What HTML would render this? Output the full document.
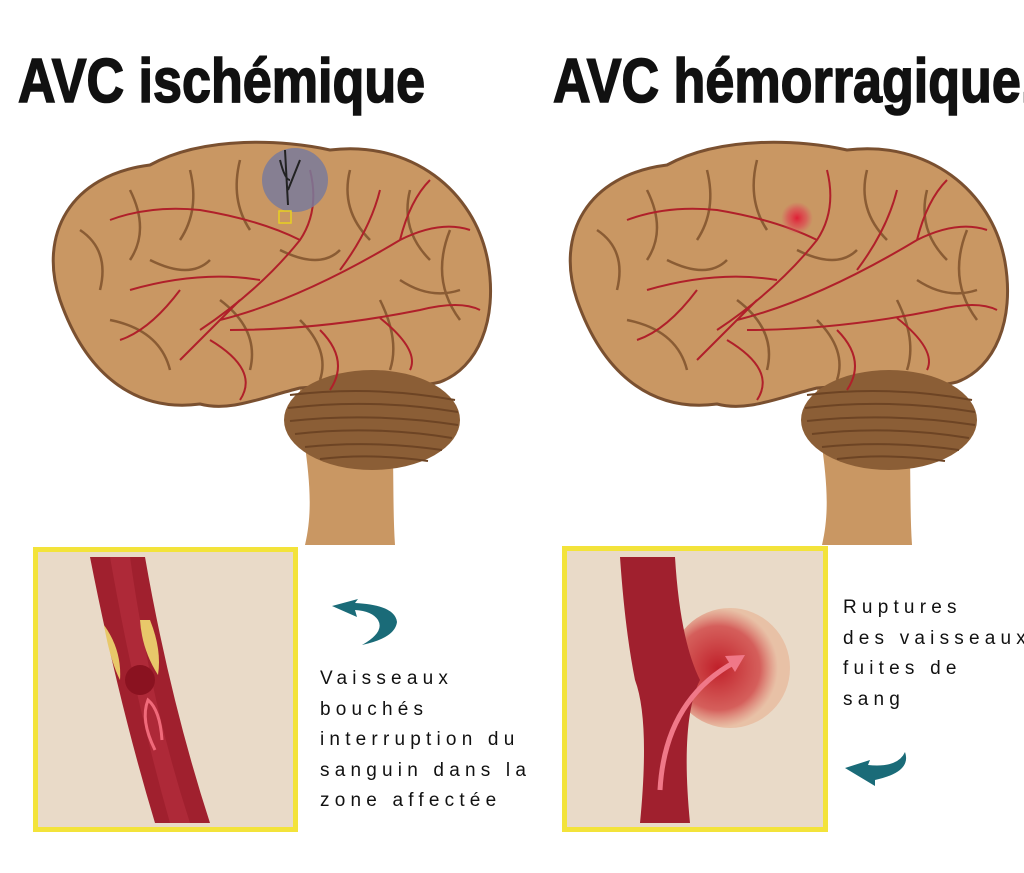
<!DOCTYPE html>
<html><head><meta charset="utf-8"><style>
html,body{margin:0;padding:0;background:#fff;}
body{width:1024px;height:873px;overflow:hidden;position:relative;font-family:"Liberation Sans",sans-serif;}
.t{position:absolute;font-family:"Liberation Sans",sans-serif;font-size:19px;letter-spacing:5.2px;color:#111;line-height:30.5px;white-space:pre;}
.h{position:absolute;top:46px;font-weight:bold;font-size:62px;transform:scaleX(0.84);transform-origin:0 0;white-space:nowrap;color:#111;-webkit-text-stroke:1.6px #111;}
</style></head><body>
<svg width="1024" height="873" viewBox="0 0 1024 873" style="position:absolute;left:0;top:0">
<defs>
<radialGradient id="rg" cx="0.5" cy="0.5" r="0.5"><stop offset="0" stop-color="#e01e35"/><stop offset="0.6" stop-color="#e04050" stop-opacity="0.6"/><stop offset="1" stop-color="#e05060" stop-opacity="0"/></radialGradient>
<radialGradient id="bl" cx="0.4" cy="0.5" r="0.5"><stop offset="0" stop-color="#c0202a"/><stop offset="0.7" stop-color="#d04040" stop-opacity="0.8"/><stop offset="1" stop-color="#e8b090" stop-opacity="0.6"/></radialGradient>
<g id="brain">
<path d="M300,385 C300,440 318,490 305,545 L395,545 C392,500 395,450 390,400 Z" fill="#c99763"/>
<path d="M60,300 C38,235 70,175 150,165 C205,135 285,140 330,150 C410,140 475,190 488,262 C498,320 478,368 440,382 C410,390 360,382 300,388 C260,398 230,412 200,404 C140,412 88,380 60,300 Z" fill="#c99763" stroke="#7a5030" stroke-width="3"/>
<ellipse cx="372" cy="420" rx="88" ry="50" fill="#8b5e36"/>
<g stroke="#6d4424" stroke-width="2" fill="none">
<path d="M290,395 Q372,385 455,400"/><path d="M288,408 Q372,398 458,412"/><path d="M290,421 Q372,412 458,425"/><path d="M295,434 Q372,425 452,438"/><path d="M305,447 Q372,440 442,450"/><path d="M320,459 Q372,453 428,461"/>
</g>
<g stroke="#8a5c34" stroke-width="2.5" fill="none">
<path d="M80,230 Q110,250 100,290"/><path d="M130,190 Q150,230 130,260"/><path d="M190,170 Q200,210 180,240"/><path d="M240,160 Q230,200 250,230"/><path d="M350,170 Q340,210 370,240"/><path d="M410,190 Q400,230 430,260"/><path d="M450,230 Q430,280 460,320"/><path d="M110,320 Q160,330 170,370"/><path d="M220,300 Q260,330 250,370"/><path d="M300,320 Q330,350 320,380"/><path d="M380,300 Q400,340 390,370"/><path d="M150,260 Q190,280 210,260"/><path d="M280,250 Q320,270 340,250"/><path d="M400,280 Q430,300 460,290"/>
</g>
<g stroke="#b0202a" stroke-width="2" fill="none">
<path d="M200,330 Q260,290 300,240 Q320,210 310,170"/><path d="M220,320 Q300,300 400,240 Q440,220 470,230"/><path d="M230,330 Q320,330 420,310 Q460,300 480,310"/><path d="M210,340 Q260,370 240,400"/><path d="M300,240 Q260,220 200,210 Q150,205 110,220"/><path d="M260,280 Q200,270 130,290"/><path d="M340,270 Q370,230 380,190"/><path d="M400,240 Q410,200 430,180"/><path d="M320,330 Q350,360 330,390"/><path d="M380,318 Q420,350 410,370"/><path d="M180,290 Q150,330 120,340"/><path d="M240,300 Q210,330 180,360"/>
</g>
</g>
</defs>
<use href="#brain"/>
<use href="#brain" x="517"/>
<ellipse cx="295" cy="180" rx="33" ry="32" fill="#7a7a9a" opacity="0.85"/>
<path d="M285,150 L288,205 M280,160 Q285,180 290,180 M300,160 Q292,180 288,190" stroke="#222" stroke-width="2" fill="none"/>
<rect x="279" y="211" width="12" height="12" fill="none" stroke="#e8d020" stroke-width="1.5"/>
<circle cx="797" cy="218" r="16" fill="url(#rg)"/>
<rect x="35.5" y="549.5" width="260" height="280" fill="#e9dac8" stroke="#f3e33a" stroke-width="5"/>
<path d="M90,557 L145,557 Q170,700 210,823 L155,823 Q118,700 90,557 Z" fill="#a0202e"/>
<path d="M110,557 L130,557 Q150,700 190,823 L170,823 Q135,700 110,557 Z" fill="#b83040" opacity="0.6"/>
<path d="M104,625 Q122,650 120,680 Q110,660 104,625 Z" fill="#e8c86a"/>
<path d="M140,620 Q142,650 158,675 Q162,650 150,620 Z" fill="#e8c86a"/>
<circle cx="140" cy="680" r="15" fill="#8a1220"/>
<path d="M155,750 Q140,720 148,700 Q160,710 162,740" stroke="#f06a7a" stroke-width="3" fill="none"/>
<rect x="564.5" y="548.5" width="261" height="281" fill="#e9dac8" stroke="#f3e33a" stroke-width="5"/>
<circle cx="730" cy="668" r="60" fill="url(#bl)"/>
<path d="M620,557 L675,557 Q680,640 700,680 Q680,720 690,823 L640,823 Q650,720 635,680 Q625,630 620,557 Z" fill="#a0202e"/>
<path d="M660,790 Q665,700 735,662" stroke="#f07888" stroke-width="5" fill="none"/>
<path d="M745,655 L725,656 L735,672 Z" fill="#f07888"/>
<path d="M332,606 L358,599 L355,603 Q395,605 397,622 Q395,638 362,645 Q385,632 378,620 Q372,611 355,610 L357,617 Z" fill="#1a6b78"/>
<path d="M845,768 L870,760 L868,765 Q898,768 905,752 Q912,772 875,780 L875,786 Z" fill="#1a6b78"/>
</svg>
<div class="h" style="left:18px">AVC ischémique</div>
<div class="h" style="left:553px">AVC hémorragique.</div>
<div class="t" style="left:320px;top:664px">Vaisseaux
bouchés
interruption du
sanguin dans la
zone affectée</div>
<div class="t" style="left:843px;top:593px">Ruptures
des vaisseaux
fuites de
sang</div>
</body></html>
